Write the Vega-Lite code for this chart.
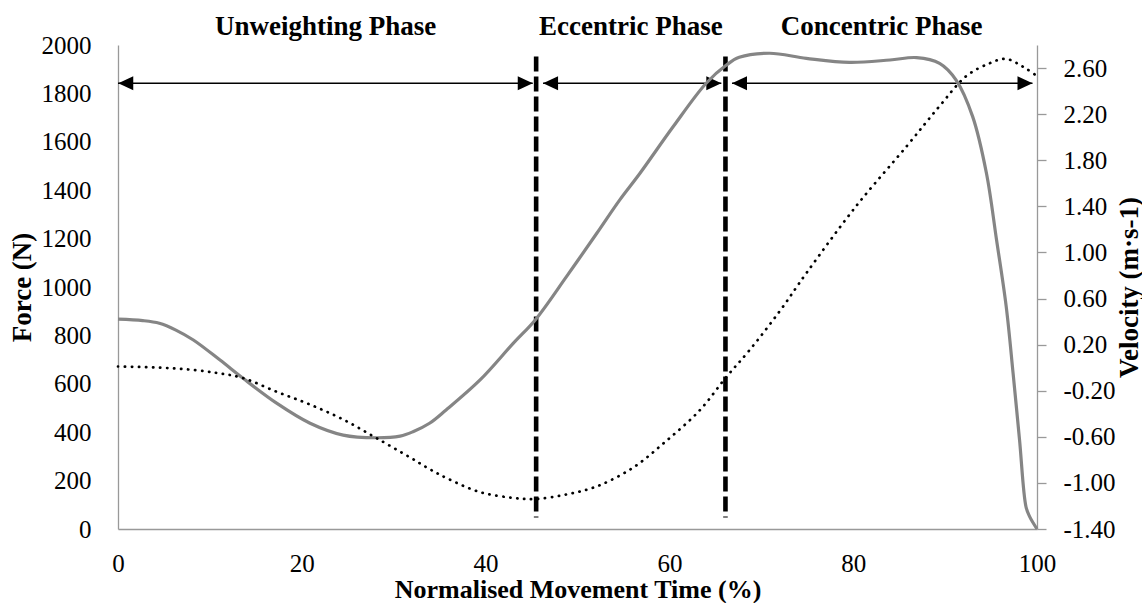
{
  "$schema": "https://vega.github.io/schema/vega-lite/v6.json",
  "width": 919,
  "height": 484,
  "autosize": "none",
  "padding": {"left": 118, "top": 45, "right": 105, "bottom": 74},
  "background": "white",
  "config": {
    "view": {"stroke": null},
    "axis": {
      "labelFont": "Liberation Serif",
      "labelFontSize": 25,
      "labelColor": "#000000",
      "titleFont": "Liberation Serif",
      "titleFontSize": 27,
      "titleFontWeight": "bold",
      "titleColor": "#000000",
      "domainColor": "#999999",
      "domainWidth": 1.3,
      "grid": false,
      "labelFlush": false,
      "labelOverlap": false
    }
  },
  "datasets": {
    "force": [
      {"t": 0, "F": 867}, {"t": 2.7, "F": 861}, {"t": 4.5, "F": 850}, {"t": 6.3, "F": 822}, {"t": 8.2, "F": 781},
      {"t": 11.1, "F": 698}, {"t": 13.6, "F": 623}, {"t": 17.3, "F": 519}, {"t": 20.9, "F": 437},
      {"t": 24.5, "F": 388}, {"t": 28.1, "F": 377}, {"t": 30.7, "F": 384}, {"t": 32.1, "F": 402},
      {"t": 33.9, "F": 437}, {"t": 35.7, "F": 492}, {"t": 39.4, "F": 616}, {"t": 43.0, "F": 767},
      {"t": 45.4, "F": 864}, {"t": 48.8, "F": 1043}, {"t": 52.1, "F": 1222}, {"t": 54.6, "F": 1360},
      {"t": 56.8, "F": 1470}, {"t": 60.4, "F": 1662}, {"t": 64.0, "F": 1842}, {"t": 66.2, "F": 1917},
      {"t": 67.6, "F": 1949}, {"t": 70.9, "F": 1966}, {"t": 74.9, "F": 1945}, {"t": 79.6, "F": 1928},
      {"t": 84.0, "F": 1938}, {"t": 86.9, "F": 1948}, {"t": 89.4, "F": 1924}, {"t": 91.2, "F": 1855},
      {"t": 93.0, "F": 1704}, {"t": 94.5, "F": 1470}, {"t": 95.6, "F": 1194}, {"t": 96.65, "F": 919},
      {"t": 97.4, "F": 643}, {"t": 98.1, "F": 368}, {"t": 98.8, "F": 92}, {"t": 99.2, "F": 51}, {"t": 100, "F": 0}
    ],
    "velocity": [
      {"t": 0, "v": 0.01}, {"t": 4.6, "v": 0.0}, {"t": 8.2, "v": -0.02}, {"t": 11.1, "v": -0.05},
      {"t": 13.6, "v": -0.09}, {"t": 17.3, "v": -0.21}, {"t": 20.9, "v": -0.32}, {"t": 24.5, "v": -0.45},
      {"t": 28.1, "v": -0.61}, {"t": 31.8, "v": -0.78}, {"t": 33.9, "v": -0.88}, {"t": 35.8, "v": -0.96},
      {"t": 39.4, "v": -1.08}, {"t": 43.0, "v": -1.13}, {"t": 45.4, "v": -1.14}, {"t": 48.8, "v": -1.10},
      {"t": 52.1, "v": -1.03}, {"t": 56.0, "v": -0.87}, {"t": 59.6, "v": -0.64}, {"t": 63.3, "v": -0.37},
      {"t": 66.2, "v": -0.08}, {"t": 68.7, "v": 0.15}, {"t": 72.0, "v": 0.49}, {"t": 74.9, "v": 0.82},
      {"t": 80.3, "v": 1.40}, {"t": 85.8, "v": 1.92}, {"t": 89.4, "v": 2.27}, {"t": 92.3, "v": 2.53},
      {"t": 94.8, "v": 2.64}, {"t": 96.6, "v": 2.68}, {"t": 98.5, "v": 2.61}, {"t": 100, "v": 2.53}
    ],
    "phaseLines": [
      {"t": 45.5, "F": 1952, "F2": 48},
      {"t": 66.1, "F": 1952, "F2": 48}
    ],
    "arrows": [
      {"t": 0, "t2": 45.13, "F": 1842},
      {"t": 46.25, "t2": 65.65, "F": 1842},
      {"t": 66.81, "t2": 99.51, "F": 1842}
    ],
    "heads": [
      {"t": 0.03, "F": 1842, "dir": "L"}, {"t": 45.13, "F": 1842, "dir": "R"},
      {"t": 46.25, "F": 1842, "dir": "L"}, {"t": 65.65, "F": 1842, "dir": "R"},
      {"t": 66.81, "F": 1842, "dir": "L"}, {"t": 99.51, "F": 1842, "dir": "R"}
    ],
    "phases": [
      {"t": 22.6, "F": 2041, "label": "Unweighting Phase"},
      {"t": 55.8, "F": 2041, "label": "Eccentric Phase"},
      {"t": 83.1, "F": 2041, "label": "Concentric Phase"}
    ]
  },
  "layer": [
    {
      "layer": [
        {
          "data": {"name": "phaseLines"},
          "mark": {"type": "rule", "color": "#000000", "strokeWidth": 4.6, "strokeDash": [15, 5]},
          "encoding": {
            "x": {"field": "t", "type": "quantitative", "scale": {"domain": [0, 100], "nice": false, "zero": false}},
            "y": {"field": "F", "type": "quantitative", "scale": {"domain": [0, 2000], "nice": false}},
            "y2": {"field": "F2"}
          }
        },
        {
          "data": {"name": "arrows"},
          "mark": {"type": "rule", "color": "#000000", "strokeWidth": 1.4},
          "encoding": {
            "x": {"field": "t", "type": "quantitative", "scale": {"domain": [0, 100], "nice": false, "zero": false}},
            "x2": {"field": "t2"},
            "y": {"field": "F", "type": "quantitative", "scale": {"domain": [0, 2000], "nice": false}}
          }
        },
        {
          "data": {"name": "heads"},
          "mark": {"type": "point", "filled": true, "color": "#000000", "opacity": 1, "size": 225, "strokeWidth": 0},
          "encoding": {
            "x": {"field": "t", "type": "quantitative", "scale": {"domain": [0, 100], "nice": false, "zero": false}},
            "y": {"field": "F", "type": "quantitative", "scale": {"domain": [0, 2000], "nice": false}},
            "shape": {
              "field": "dir", "type": "nominal",
              "scale": {"domain": ["L", "R"], "range": ["M0,0L2,-0.93L2,0.93Z", "M0,0L-2,-0.93L-2,0.93Z"]},
              "legend": null
            }
          }
        },
        {
          "data": {"name": "phases"},
          "mark": {"type": "text", "font": "Liberation Serif", "fontSize": 27, "fontWeight": "bold", "color": "#000000", "align": "center", "baseline": "alphabetic"},
          "encoding": {
            "x": {"field": "t", "type": "quantitative", "scale": {"domain": [0, 100], "nice": false, "zero": false}},
            "y": {"field": "F", "type": "quantitative", "scale": {"domain": [0, 2000], "nice": false}},
            "text": {"field": "label"}
          }
        },
        {
          "data": {"name": "force"},
          "mark": {"type": "line", "color": "#858585", "strokeWidth": 3.2, "interpolate": "catmull-rom"},
          "encoding": {
            "x": {
              "field": "t", "type": "quantitative",
              "scale": {"domain": [0, 100], "nice": false, "zero": false},
              "axis": {
                "values": [0, 20, 40, 60, 80, 100],
                "ticks": false, "tickSize": 0, "labelPadding": 22,
                "title": "Normalised Movement Time (%)",
                "titleFontSize": 26,
                "titleX": 459.5, "titleY": 68, "titleBaseline": "alphabetic", "titleAlign": "center"
              }
            },
            "y": {
              "field": "F", "type": "quantitative",
              "scale": {"domain": [0, 2000], "nice": false},
              "axis": {
                "orient": "left",
                "values": [0, 200, 400, 600, 800, 1000, 1200, 1400, 1600, 1800, 2000],
                "format": "d",
                "ticks": false, "tickSize": 0, "labelPadding": 27,
                "title": "Force (N)",
                "titleAngle": 270, "titleBaseline": "middle", "titleAlign": "center",
                "titleX": -96, "titleY": 242
              }
            }
          }
        }
      ]
    },
    {
      "data": {"name": "velocity"},
      "mark": {"type": "line", "color": "#000000", "strokeWidth": 2.7, "strokeCap": "round", "strokeDash": [0.3, 6.7], "interpolate": "catmull-rom"},
      "encoding": {
        "x": {"field": "t", "type": "quantitative", "scale": {"domain": [0, 100], "nice": false, "zero": false}},
        "y": {
          "field": "v", "type": "quantitative",
          "scale": {"domain": [-1.4, 2.8], "nice": false, "zero": false},
          "axis": {
            "orient": "right",
            "values": [-1.4, -1.0, -0.6, -0.2, 0.2, 0.6, 1.0, 1.4, 1.8, 2.2, 2.6],
            "labelExpr": "datum.value < 0 ? '-' + format(-datum.value, '.2f') : format(datum.value, '.2f')",
            "ticks": true, "tickSize": 9, "tickColor": "#999999", "tickWidth": 1.3, "labelPadding": 17,
            "title": "Velocity (m·s-1)",
            "titleAngle": 270, "titleBaseline": "middle", "titleAlign": "center",
            "titleX": 92, "titleY": 242
          }
        }
      }
    }
  ],
  "resolve": {"scale": {"y": "independent"}}
}
